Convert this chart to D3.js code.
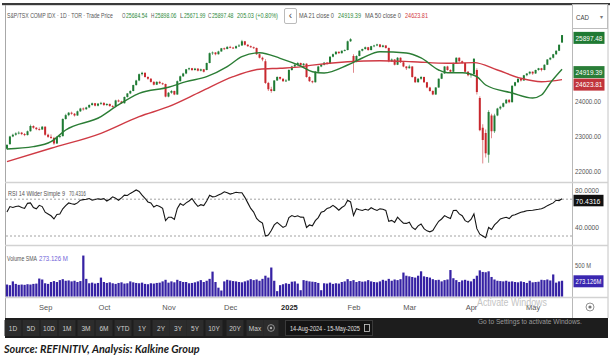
<!DOCTYPE html>
<html><head><meta charset="utf-8">
<script src="https://cdn.jsdelivr.net/npm/d3@7"></script>
<style>
html,body{margin:0;padding:0;background:#fff;}
svg{display:block;font-family:"Liberation Sans Narrow","Liberation Sans",Arial,sans-serif;}
</style></head><body>
<svg id="c" width="612" height="360"></svg>
<script>
// ---------- DATA ----------
const startDate = "2024-08-14", endDate = "2025-05-15";
const holidays = ["2024-09-02","2024-10-14","2024-12-25","2024-12-26","2025-01-01","2025-02-17","2025-04-18"];
const monthLabels = ["Sep","Oct","Nov","Dec","2025","Feb","Mar","Apr","May"];

// [open, high, low, close]
const candles = [
[22650,22780,22620,22760],[22780,23020,22770,23000],[23000,23080,22980,23050],[23050,23120,23020,23090],[23090,23150,23060,23110],
[23110,23130,23040,23070],[23070,23100,23010,23040],[23040,23170,23030,23150],[23150,23340,23140,23300],[23300,23320,23220,23250],
[23250,23270,23180,23210],[23210,23260,23170,23200],[23200,23300,23190,23280],[23280,23290,23020,23050],[23050,23080,22960,22990],
[22990,23060,22930,22960],[22960,22990,22760,22800],[22800,23010,22790,22990],[22990,23040,22950,23010],[23010,23520,23000,23500],
[23500,23650,23480,23610],[23610,23700,23580,23680],[23680,23710,23620,23650],[23650,23670,23570,23600],[23600,23740,23590,23720],
[23720,23820,23700,23800],[23800,23830,23740,23780],[23780,23850,23760,23830],[23830,23920,23810,23900],[23900,23970,23880,23950],
[23950,23960,23860,23880],[23880,23950,23860,23940],[23940,23990,23900,23960],[23960,23980,23870,23900],[23900,23950,23870,23930],
[23930,23940,23850,23870],[23870,23900,23820,23860],[23860,24050,23850,24030],[24030,24060,23980,24000],[24000,24020,23930,23950],
[23950,24140,23940,24130],[24130,24240,24110,24230],[24230,24320,24210,24300],[24300,24480,24290,24470],[24470,24620,24450,24600],
[24600,24800,24580,24780],[24780,24850,24740,24820],[24820,24830,24680,24700],[24700,24720,24620,24650],[24650,24670,24540,24560],
[24560,24580,24460,24480],[24480,24580,24470,24560],[24560,24590,24500,24520],[24520,24540,24470,24500],[24500,24510,24120,24140],
[24140,24270,24120,24250],[24250,24330,24220,24300],[24300,24310,24180,24200],[24200,24600,24190,24580],[24580,24740,24570,24720],
[24720,24820,24700,24800],[24800,24930,24780,24920],[24920,24970,24890,24950],[24950,24960,24870,24900],[24900,24960,24880,24940],
[24940,24950,24860,24880],[24880,24940,24860,24920],[24920,24930,24830,24850],[24900,25110,24890,25100],[25100,25400,25090,25380],
[25380,25430,25330,25400],[25400,25410,25320,25350],[25350,25450,25340,25430],[25430,25530,25420,25520],[25520,25540,25470,25500],
[25500,25580,25490,25560],[25560,25590,25520,25540],[25540,25560,25500,25520],[25520,25600,25510,25580],[25580,25640,25560,25600],
[25600,25760,25590,25720],[25720,25730,25600,25620],[25620,25640,25560,25580],[25580,25600,25530,25550],[25550,25570,25500,25530],
[25530,25540,25330,25350],[25350,25370,25230,25250],[25250,25280,25150,25200],[25150,25210,24500,24530],[24530,24560,24300,24350],
[24350,24420,24250,24300],[24300,24610,24290,24600],[24600,24720,24590,24700],[24700,24710,24620,24650],[24650,24660,24560,24580],
[24580,24640,24560,24600],[24600,24920,24590,24900],[24900,25020,24880,25000],[25000,25080,24980,25050],[25050,25130,25030,25100],
[25100,25110,25020,25040],[25040,25100,25020,25080],[25080,25090,24680,24700],[24700,24720,24560,24580],[24580,24600,24520,24550],
[24550,24870,24540,24850],[24850,25020,24840,25000],[25000,25070,24980,25050],[25050,25130,25030,25110],[25110,25120,25050,25080],
[25080,25290,25070,25280],[25280,25370,25260,25350],[25350,25440,25340,25420],[25420,25430,25360,25380],[25380,25460,25370,25450],
[25450,25490,25430,25470],[25470,25740,25460,25720],[25720,25810,25700,25780],[25300,25350,24820,25130],[25130,25320,25120,25300],
[25300,25460,25290,25450],[25450,25510,25430,25500],[25500,25570,25480,25550],[25550,25560,25450,25470],[25470,25590,25460,25580],
[25580,25620,25550,25600],[25600,25650,25580,25630],[25630,25640,25540,25560],[25560,25620,25540,25600],[25600,25610,25510,25530],
[25530,25540,25120,25150],[25150,25230,25130,25200],[25200,25210,25030,25050],[25050,25270,25040,25250],[25250,25260,25100,25120],
[25120,25140,24980,25000],[25000,25010,24900,24950],[24950,25050,24940,25000],[25000,25010,24680,24700],[24700,24720,24530,24550],
[24550,24670,24540,24650],[24650,24730,24620,24700],[24700,24710,24530,24550],[24550,24560,24380,24400],[24400,24420,24280,24300],
[24300,24320,24180,24200],[24200,24410,24190,24400],[24400,24660,24390,24650],[24650,24820,24640,24800],[24800,25010,24790,25000],
[25000,25020,24880,24900],[24900,24920,24820,24850],[24850,25110,24840,25100],[25100,25260,25090,25250],[25250,25260,25130,25150],
[25150,25170,25080,25100],[25100,25110,24830,24850],[24850,24870,24720,24750],[24750,24800,24680,24780],[24780,25240,24770,25220],
[24900,24950,24200,24270],[24100,24150,23150,23180],[23250,23350,22230,22900],[23100,23200,22400,22520],[22480,23750,22250,23700],
[23600,23650,22950,23150],[23150,23650,23100,23600],[23600,23820,23580,23800],[23800,23880,23760,23850],[23850,23970,23830,23950],
[23950,24070,23930,24050],[24050,24060,23950,23980],[23980,24460,23970,24450],[24450,24560,24430,24550],[24550,24660,24530,24650],
[24650,24660,24570,24600],[24600,24760,24590,24750],[24750,24810,24720,24800],[24800,24860,24770,24850],[24850,24860,24760,24800],
[24800,24910,24790,24900],[24900,24960,24880,24950],[24950,24960,24860,24900],[24900,25060,24890,25050],[25050,25210,25040,25200],
[25200,25260,25180,25250],[25250,25360,25230,25350],[25350,25460,25330,25450],[25450,25630,25440,25620],[25684.54,25898.06,25671.99,25897.48]
];

// moving averages as [tradingDayIndex, value]
const ma21 = [[0,22643],[9,22709],[15,22851],[20,23186],[32,23566],[37,23851],[45,24234],[55,24406],[61,24566],[68,24709],
[75,24994],[80,25280],[86,25394],[93,25234],[100,25014],[104,24851],[108,24814],[116,25043],[121,25243],[127,25423],
[136,25386],[141,25243],[147,24900],[150,24823],[155,24823],[160,24709],[163,24471],[172,24243],[179,24100],[182,24186],
[185,24529],[189,24919.39]];
const ma50 = [[0,22280],[15,22663],[32,23091],[45,23566],[55,23851],[66,24280],[77,24709],[86,24920],[93,24950],[100,24990],
[104,25040],[116,25137],[127,25166],[138,25137],[150,25091],[159,25109],[167,24900],[175,24663],[182,24566],[189,24623.81]];

const rsi = [
56,62,61,62,62.6,61,60,65.5,66,61,
59.6,63.3,62,55.9,54,52,48.5,53.3,54,59.6,
63,65.9,65,64.4,66,68.9,69.5,70,70.7,69,
69.6,70.5,69.8,70.7,68,70,72.6,71,68.9,71.5,
74.4,74,76.3,78,80,78.5,74.4,71,67,66,
61.5,63.3,62,60,46.7,50.4,50.4,48,60,65.2,
63.3,66,68,70.7,66,62.2,64,63,68,74.4,
72.6,73,74.5,76,78.1,77,75.6,76.5,77.5,77,
77,72,66,60,56,49,46,44,30,31,
36,42,44.8,42,39.3,41,50,52.2,51,52,
50.5,50.4,39.3,42,41,46.7,50,55.9,57,60,
61,63.3,61,58,61,63,68.9,67,52.2,59.6,
58.5,57.8,59,58,60.7,59,57.8,59.5,59,57.8,
46,47,44.8,50.4,47,44,43.7,45,39.3,37,
41,43,38,35.6,34.5,36,41.1,46,48.5,52.2,
50.4,49,57.8,58,54,52,46.7,45,48,54,
38,32,30,28.1,39.3,37,42,45,48.5,49.5,
50.4,49,52.2,53,54.5,55.9,56.5,57.5,57.8,58,
58.5,59,59.6,61,63,64.4,66,68.9,68.5,70.4316
];

// volume, millions
const volume = [
190,180,240,200,185,190,185,195,190,200,
205,285,270,210,200,230,245,230,260,275,
250,255,240,250,230,245,650,280,210,220,
205,215,300,230,215,225,210,200,215,225,
205,210,240,225,215,210,220,200,195,210,
205,215,220,240,265,220,240,225,265,245,
230,230,210,215,225,240,260,230,250,280,
395,230,140,95,240,265,255,245,240,230,
225,240,255,275,260,270,250,280,330,300,
460,250,85,180,195,210,200,235,240,205,
100,260,250,240,235,230,215,100,210,205,
220,200,210,205,230,240,275,245,260,230,
245,235,240,260,240,230,225,240,265,250,
280,250,270,260,275,380,330,320,310,300,
330,400,320,310,300,275,260,265,240,260,
270,420,290,260,230,255,265,250,240,280,
330,415,390,385,400,310,270,250,245,240,
250,235,240,230,225,240,230,215,250,225,
230,235,265,260,270,255,350,220,240,250
];
const volumeSMA = 273.126;
const rsiLast = 70.4316;
const changeAbs = 205.03, changePct = 0.80;

const priceTicks = [22000, 23000, 24000];
const rsiTicks = [40, 80];
const rsiLevels = [30, 70];
const volTicks = [500];
const rangeButtons = ["1D","5D","10D","1M","3M","6M","YTD","1Y","2Y","3Y","5Y","10Y","20Y","Max"];

// ---------- SETUP ----------
const svg = d3.select("#c");
const GREEN = "#1e7a33", RED = "#c8282e", GTXT = "#2f8a3c", RTXT = "#d23a3f";
const n = candles.length;
const fmtDay = d3.utcFormat("%Y-%m-%d");
const days = d3.utcDay.range(d3.utcParse("%Y-%m-%d")(startDate), d3.utcDay.offset(d3.utcParse("%Y-%m-%d")(endDate), 1))
  .filter(d => d.getUTCDay() !== 0 && d.getUTCDay() !== 6 && !holidays.includes(fmtDay(d))).slice(0, n);

const x = d3.scaleBand().domain(d3.range(n)).range([5.5, 563.5]).padding(0);
const bw = x.bandwidth();
const xc = i => x(i) + bw / 2;
const xl = d3.scaleLinear().domain([0, n - 1]).range([xc(0), xc(n - 1)]);

const y = d3.scaleLinear().domain([21700, 26071]).range([182, 29]);
const ry = d3.scaleLinear().domain([40, 80]).range([226.8, 190]);
const vy = d3.scaleLinear().domain([0, 500]).range([296.5, 265]);

// text helper: condensed texts are squeezed with a horizontal scale so their real box matches
function T(g, xx, yy, str, o = {}) {
  const t = g.append("text").text(str)
    .attr("font-size", o.size || 7.5).attr("fill", o.fill || "#555");
  if (o.anchor) t.attr("text-anchor", o.anchor);
  if (o.weight) t.attr("font-weight", o.weight);
  if (o.family) t.attr("font-family", o.family);
  if (o.style) t.attr("font-style", o.style);
  if (o.len) {
    const L = t.node().getComputedTextLength() || o.len;
    const s = Math.min(1.15, o.len / L);
    t.attr("x", 0).attr("y", 0).attr("transform", `translate(${xx},${yy}) scale(${s.toFixed(4)},1)`);
  } else {
    t.attr("x", xx).attr("y", yy);
  }
  return t;
}

// ---------- FRAME ----------
svg.append("rect").attr("x", 2).attr("y", 3).attr("width", 608).attr("height", 2.2).attr("fill", "#3a3a3a");
svg.append("line").attr("x1", 5.5).attr("x2", 5.5).attr("y1", 5).attr("y2", 318).attr("stroke", "#a8a8a8");
svg.append("line").attr("x1", 572.5).attr("x2", 572.5).attr("y1", 28).attr("y2", 318).attr("stroke", "#b8b8b8");
svg.append("line").attr("x1", 608).attr("x2", 608).attr("y1", 5).attr("y2", 318).attr("stroke", "#c4c4c4");
[182.5, 245.5, 297.5].forEach(yy => svg.append("line").attr("x1", 5).attr("x2", 608).attr("y1", yy).attr("y2", yy)
  .attr("stroke", "#d2d2d2").attr("stroke-width", 1.4));

// ---------- HEADER ----------
const hd = svg.append("g");
T(hd, 7, 17.5, "S&P/TSX COMP IDX · 1D · TOR · Trade Price", {len: 106, fill: "#555"});
const last = candles[n - 1];
const f2 = d3.format(".2f");
[["O", last[0], 122], ["H", last[1], 151], ["L", last[2], 180], ["C", last[3], 208]].forEach(([k, v, xx]) => {
  T(hd, xx, 17.5, k, {len: 3.4, fill: "#555"});
  T(hd, xx + 4, 17.5, f2(v), {len: 21.5, fill: GTXT});
});
T(hd, 237, 17.5, f2(changeAbs) + " (+" + f2(changePct) + "%)", {len: 41, fill: GTXT});
hd.append("rect").attr("x", 284.5).attr("y", 8.5).attr("width", 12).attr("height", 15).attr("rx", 1.5)
  .attr("fill", "#fff").attr("stroke", "#bbb");
T(hd, 290.5, 19, "‹", {anchor: "middle", size: 10, fill: "#444"});
T(hd, 299, 17.5, "MA 21 close 0", {len: 35});
T(hd, 338, 17.5, f2(ma21[ma21.length - 1][1]), {len: 23, fill: GTXT});
T(hd, 365, 17.5, "MA 50 close 0", {len: 36});
T(hd, 405, 17.5, f2(ma50[ma50.length - 1][1]), {len: 23, fill: RTXT});
hd.append("rect").attr("x", 572.5).attr("y", 4.5).attr("width", 35).attr("height", 24).attr("fill", "#fff").attr("stroke", "#bdbdbd");
T(hd, 576, 19.5, "CAD", {len: 13, fill: "#444"});
T(hd, 600, 19, "▾", {size: 6, fill: "#777"});

// ---------- PRICE PANEL ----------
svg.append("clipPath").attr("id", "cp").append("rect").attr("x", 6).attr("y", 29).attr("width", 566).attr("height", 153);
const pg = svg.append("g").attr("clip-path", "url(#cp)");
const cg = pg.selectAll("g.c").data(candles).join("g").attr("class", "c");
cg.append("line").attr("x1", (d, i) => xc(i)).attr("x2", (d, i) => xc(i))
  .attr("y1", d => y(d[1])).attr("y2", d => y(d[2]))
  .attr("stroke", d => d[3] >= d[0] ? GREEN : RED).attr("stroke-width", 0.8).attr("opacity", 0.7);
cg.append("rect").attr("x", (d, i) => xc(i) - 1).attr("width", 2)
  .attr("y", d => y(Math.max(d[0], d[3])))
  .attr("height", d => Math.max(0.9, Math.abs(y(d[0]) - y(d[3]))))
  .attr("fill", d => d[3] >= d[0] ? GREEN : RED);
const maLine = d3.line().x(d => xl(d[0])).y(d => y(d[1])).curve(d3.curveMonotoneX);
pg.append("path").attr("d", maLine(ma50)).attr("fill", "none").attr("stroke", "#cf3a44").attr("stroke-width", 1.4);
pg.append("path").attr("d", maLine(ma21)).attr("fill", "none").attr("stroke", "#2b7d35").attr("stroke-width", 1.4);

// price axis
const pa = svg.append("g").attr("transform", "translate(575,0)")
  .call(d3.axisRight(y).tickValues(priceTicks).tickFormat(f2).tickSize(0).tickPadding(0));
pa.select(".domain").remove();
pa.attr("font-family", null);
pa.selectAll("text").attr("font-size", 7.5).attr("fill", "#555")
  .attr("textLength", 26).attr("lengthAdjust", "spacingAndGlyphs");

function valBox(yc, str, bg) {
  svg.append("rect").attr("x", 573.5).attr("y", yc - 6).attr("width", 31).attr("height", 12).attr("fill", bg);
  T(svg, 575.5, yc + 2.7, str, {fill: "#fff", len: 27});
}
let prev = -1e9;
[[last[3], "#1f7a33"], [ma21[ma21.length - 1][1], "#2a7e38"], [ma50[ma50.length - 1][1], "#c1343b"]]
  .map(([v, c]) => ({v, c, yc: y(v) + 2.8}))
  .sort((a, b) => a.yc - b.yc)
  .forEach(b => { if (b.yc < prev + 12.5) b.yc = prev + 12.5; prev = b.yc; valBox(b.yc, f2(b.v), b.c); });

// ---------- RSI PANEL ----------
const rg = svg.append("g");
rsiLevels.forEach(l => rg.append("line").attr("x1", 6).attr("x2", 572).attr("y1", ry(l)).attr("y2", ry(l))
  .attr("stroke", "#8c8c8c").attr("stroke-width", 0.8).attr("stroke-dasharray", "2,2"));
rg.append("path").datum(rsi).attr("d", d3.line().x((d, i) => xc(i)).y(d => ry(d)))
  .attr("fill", "none").attr("stroke", "#151515").attr("stroke-width", 1.1);
T(rg, 8, 195.5, "RSI 14 Wilder Simple 9", {len: 57, size: 7});
T(rg, 69, 195.5, d3.format(".4f")(rsiLast), {len: 17, size: 7});
const ra = svg.append("g").attr("transform", "translate(575,0)")
  .call(d3.axisRight(ry).tickValues(rsiTicks).tickFormat(d3.format(".4f")).tickSize(0).tickPadding(0));
ra.select(".domain").remove();
ra.attr("font-family", null);
ra.selectAll("text").attr("font-size", 7.5).attr("fill", "#555").attr("textLength", 24).attr("lengthAdjust", "spacingAndGlyphs");
svg.append("rect").attr("x", 573.5).attr("y", ry(rsiLast) - 4).attr("width", 30).attr("height", 11.5).attr("fill", "#111");
T(svg, 575.5, ry(rsiLast) + 4.8, d3.format(".4f")(rsiLast), {fill: "#fff", len: 25});

// ---------- VOLUME PANEL ----------
const vg = svg.append("g");
vg.selectAll("rect").data(volume).join("rect")
  .attr("x", (d, i) => x(i) + 0.35).attr("width", bw - 0.7)
  .attr("y", d => vy(d)).attr("height", d => vy(0) - vy(d)).attr("fill", "#3622a4");
T(vg, 7, 261, "Volume SMA", {len: 30, size: 7});
T(vg, 39, 261, d3.format(".3f")(volumeSMA) + " M", {len: 29, size: 7, fill: "#6f64d8"});
const va = svg.append("g").attr("transform", "translate(575,0)")
  .call(d3.axisRight(vy).tickValues(volTicks).tickFormat(d => d + " M").tickSize(0).tickPadding(0));
va.select(".domain").remove();
va.attr("font-family", null);
va.selectAll("text").attr("font-size", 7.5).attr("fill", "#555").attr("textLength", 16).attr("lengthAdjust", "spacingAndGlyphs");
svg.append("rect").attr("x", 573.5).attr("y", vy(volumeSMA) - 4).attr("width", 30).attr("height", 12).attr("fill", "#3a27b0");
T(svg, 575.5, vy(volumeSMA) + 5, d3.format(".3f")(volumeSMA) + "M", {fill: "#fff", len: 26});

// ---------- DATE AXIS ----------
const monthIdx = d3.range(1, days.length).filter(i => days[i].getUTCMonth() !== days[i - 1].getUTCMonth());
const xa = svg.append("g").attr("transform", "translate(0,307)")
  .call(d3.axisBottom(d3.scaleLinear().domain([0, n - 1]).range([xc(0), xc(n - 1)]))
    .tickValues(monthIdx).tickFormat((d, k) => monthLabels[k]).tickSize(0).tickPadding(0));
xa.select(".domain").remove();
xa.attr("font-family", null);
xa.selectAll("text").attr("y", 0).attr("dy", "0.35em").attr("font-size", 7.5)
  .attr("fill", (d, k) => monthLabels[k] === "2025" ? "#222" : "#555")
  .attr("font-weight", (d, k) => monthLabels[k] === "2025" ? "bold" : null);
svg.append("circle").attr("cx", 590).attr("cy", 307).attr("r", 4).attr("fill", "none").attr("stroke", "#777").attr("stroke-width", 0.8);
svg.append("circle").attr("cx", 590).attr("cy", 307).attr("r", 1.6).attr("fill", "#777");

// ---------- TOOLBAR ----------
const tb = svg.append("g");
tb.append("rect").attr("x", 5).attr("y", 318).attr("width", 603).attr("height", 20).attr("fill", "#1d1d1d");
const btnX = [13, 31, 49, 67, 86, 104, 123, 142, 161, 178, 195, 214, 235, 255];
rangeButtons.forEach((b, k) => {
  tb.append("rect").attr("x", btnX[k] - 8.5).attr("y", 320).attr("width", 17).attr("height", 16).attr("fill", "#2c2c2c");
  T(tb, btnX[k], 330.5, b, {anchor: "middle", size: 6.5, fill: "#cfcfcf"});
});
tb.append("rect").attr("x", 263.5).attr("y", 320).attr("width", 15).attr("height", 16).attr("fill", "#2c2c2c");
tb.append("circle").attr("cx", 271).attr("cy", 328).attr("r", 3.4).attr("fill", "none").attr("stroke", "#aaa").attr("stroke-width", 0.8);
tb.append("circle").attr("cx", 271).attr("cy", 328).attr("r", 1.2).attr("fill", "#aaa");
tb.append("rect").attr("x", 285.5).attr("y", 320.5).attr("width", 87).attr("height", 15).attr("fill", "#141414").attr("stroke", "#3a3a3a");
T(tb, 290, 330.5, "14-Aug-2024 - 15-May-2025", {size: 6.5, fill: "#e0e0e0", len: 70});
tb.append("rect").attr("x", 364.5).attr("y", 324.5).attr("width", 5).attr("height", 7).attr("fill", "none").attr("stroke", "#ccc").attr("stroke-width", 0.8);

// watermark
T(svg, 477, 306, "Activate Windows", {size: 10, fill: "#c4c4c4", len: 70});
T(svg, 478, 323.5, "Go to Settings to activate Windows.", {size: 6.5, fill: "#9a9a9a", len: 104});

// source
T(svg, 4, 352.5, "Source: REFINITIV, Analysis: Kalkine Group",
  {size: 10.5, weight: "bold", style: "italic", fill: "#1a1a1a", len: 196, family: "Lato, 'Open Sans', sans-serif"});
</script>
</body></html>
